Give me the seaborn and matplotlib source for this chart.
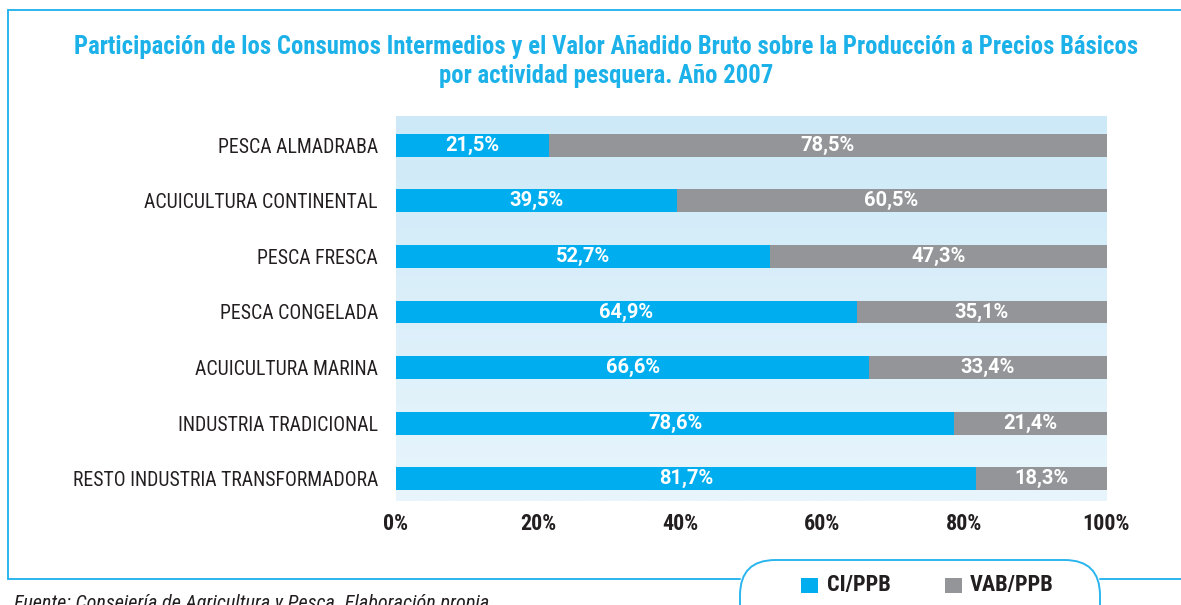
import matplotlib
matplotlib.use("Agg")
import matplotlib.pyplot as plt
import seaborn as sns
import numpy as np
import pandas as pd
from matplotlib.patches import FancyBboxPatch
from matplotlib.lines import Line2D
from matplotlib.colors import LinearSegmentedColormap

categories = ["PESCA ALMADRABA", "ACUICULTURA CONTINENTAL", "PESCA FRESCA",
              "PESCA CONGELADA", "ACUICULTURA MARINA", "INDUSTRIA TRADICIONAL",
              "RESTO INDUSTRIA TRANSFORMADORA"]
ci_ppb = [21.5, 39.5, 52.7, 64.9, 66.6, 78.6, 81.7]
vab_ppb = [78.5, 60.5, 47.3, 35.1, 33.4, 21.4, 18.3]
ticks = [0, 20, 40, 60, 80, 100]
tick_labels = ["0%", "20%", "40%", "60%", "80%", "100%"]
title_lines = ["Participación de los Consumos Intermedios y el Valor Añadido Bruto sobre la Producción a Precios Básicos",
               "por actividad pesquera. Año 2007"]
legend_labels = ["CI/PPB", "VAB/PPB"]
source = "Fuente: Consejería de Agricultura y Pesca. Elaboración propia."

BLUE = "#00aeef"
GRAY = "#939598"
TITLE_C = "#1cb2e9"
FRAME_C = "#2bb5ee"
DARK = "#231f20"
COND = ["Roboto Condensed", "DejaVu Sans"]
WIDE = ["Roboto", "DejaVu Sans"]

sns.set_theme(style="white")
plt.rcParams['font.family'] = COND

df = pd.DataFrame({"cat": categories, "ci": ci_ppb, "vab": vab_ppb})
df["total"] = df["ci"] + df["vab"]

fig = plt.figure(figsize=(11.81, 6.05), dpi=100)
W, H = 1181, 605
ax = fig.add_axes([396 / W, 1 - 500.7 / H, (1106.5 - 396) / W, (500.7 - 116) / H])

# gradient background
cmap = LinearSegmentedColormap.from_list("bg", ["#cde9f8", "#e8f5fc"])
ax.imshow(np.linspace(0, 1, 256).reshape(-1, 1), aspect="auto", cmap=cmap,
          extent=[0, 100, 6.396, -0.527], zorder=0)

sns.barplot(data=df, y="cat", x="total", color=GRAY, orient="h", width=0.41,
            saturation=1, ax=ax, zorder=2, linewidth=0)
sns.barplot(data=df, y="cat", x="ci", color=BLUE, orient="h", width=0.41,
            saturation=1, ax=ax, zorder=3, linewidth=0)

ax.set_xlim(0, 100)
ax.set_ylim(6.396, -0.527)
for s in ax.spines.values():
    s.set_visible(False)
ax.set_xlabel("")
ax.set_ylabel("")
ax.set_xticks(ticks)
ax.set_xticklabels(tick_labels, fontsize=15.8, fontweight="bold", color=DARK, family=COND)
ax.tick_params(axis="x", length=0, pad=9)
ax.tick_params(axis="y", length=0, pad=13)
for lab in ax.get_yticklabels():
    lab.set_fontsize(14.2)
    lab.set_color(DARK)
    lab.set_family(COND)

# value labels
lab_font = dict(color="white", fontsize=14.5, fontweight="bold", family=WIDE)
for i, (c, v) in enumerate(zip(ci_ppb, vab_ppb)):
    ax.text(c / 2, i, f"{c:.1f}%".replace(".", ","), ha="center", va="center",
            zorder=5, **lab_font)
    ax.text(c + v / 2, i, f"{v:.1f}%".replace(".", ","), ha="center", va="center",
            zorder=5, **lab_font)

# title
for yy, line in zip([47, 76], title_lines):
    fig.text(606 / W, 1 - yy / H, line, ha="center", va="center", color=TITLE_C,
             fontsize=17.8, fontweight="bold", family=COND)

def px(x, y):
    return x / W, 1 - y / H

# frame lines
lw = 1.4
for (x0, y0, x1, y1) in [(8, 10, W, 10), (8, 10, 8, 579), (8, 579, 740, 579), (1100, 579, W, 579)]:
    a, b = px(x0, y0)
    c, d = px(x1, y1)
    fig.add_artist(Line2D([a, c], [b, d], color=FRAME_C, lw=lw, transform=fig.transFigure))

# legend box
bx0, by0 = px(740, 640)
bx1, by1 = px(1100, 560)
box = FancyBboxPatch((bx0, by0), bx1 - bx0, by1 - by0,
                     boxstyle="round,pad=0,rounding_size=0.03",
                     transform=fig.transFigure, facecolor="white",
                     edgecolor=FRAME_C, lw=lw, mutation_aspect=W / H, zorder=5)
fig.add_artist(box)
for (sx, col, label, tx) in zip([801, 945], [BLUE, GRAY], legend_labels, [827, 970]):
    a, b = px(sx, 593)
    sq = plt.Rectangle((a, b), 17 / W, 15 / H, transform=fig.transFigure,
                       facecolor=col, edgecolor="none", zorder=6)
    fig.add_artist(sq)
    fig.text(tx / W, 1 - 585 / H, label, ha="left", va="center", fontsize=16,
             fontweight="bold", color=DARK, zorder=7, family=COND)

# source
fig.text(14 / W, 1 - 594 / H, source, ha="left", va="top", fontsize=14.5,
         style="italic", color=DARK, family=COND)

fig.savefig("out.png", dpi=100)
